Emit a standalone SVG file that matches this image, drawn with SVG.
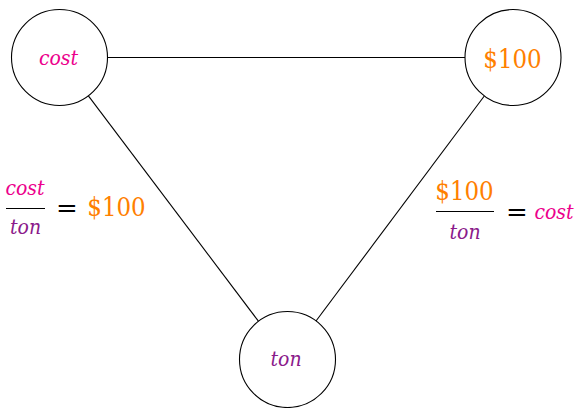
<svg xmlns="http://www.w3.org/2000/svg" width="577" height="408" viewBox="0 0 577 408">
  <style>
    .node { fill: #ffffff; stroke: #000000; stroke-width: 1.1; }
    .edge { stroke: #000000; stroke-width: 1.1; fill: none; }
    .bar { stroke: #000000; stroke-width: 1.1; }
    .it { font-style: italic; font-size: 21px; }
    .rm { font-size: 25.5px; }
    .cost { fill: #EC008C; }
    .ton { fill: #8B1A8B; }
    .usd { fill: #FF8000; }
    .eq { fill: #000000; font-family: "DejaVu Serif", serif; font-stretch: normal; font-size: 26px; }
  </style>
  <rect width="577" height="408" fill="#ffffff"/>

  <g id="connectors">
    <line class="edge" x1="107.5" y1="57.5" x2="465" y2="57.5"/>
    <line class="edge" x1="88.4" y1="95.8" x2="258.4" y2="321.2"/>
    <line class="edge" x1="484.3" y1="96" x2="316" y2="321"/>
  </g>

  <g font-family="'DejaVu Serif Condensed', 'DejaVu Serif', serif" font-stretch="condensed">
    <g id="node-cost">
      <circle class="node" cx="59.5" cy="57.5" r="48"/>
      <text class="it cost" x="58.5" y="64.5" text-anchor="middle">cost</text>
    </g>

    <g id="node-price">
      <circle class="node" cx="513" cy="57.5" r="48"/>
      <text class="rm usd" x="512.5" y="67.5" text-anchor="middle">$100</text>
    </g>

    <g id="node-ton">
      <circle class="node" cx="287.5" cy="359.5" r="48"/>
      <text class="it ton" x="286" y="366" text-anchor="middle">ton</text>
    </g>

    <g id="label-left">
      <text class="it cost" x="25" y="195" text-anchor="middle">cost</text>
      <line class="bar" x1="6" y1="208.5" x2="45" y2="208.5"/>
      <text class="it ton" x="25.5" y="233.5" text-anchor="middle">ton</text>
      <text class="eq" x="67" y="217" text-anchor="middle">=</text>
      <text class="rm usd" x="116.5" y="215.5" text-anchor="middle">$100</text>
    </g>

    <g id="label-right">
      <text class="rm usd" x="464.5" y="200" text-anchor="middle">$100</text>
      <line class="bar" x1="436" y1="211.5" x2="494" y2="211.5"/>
      <text class="it ton" x="465" y="238.5" text-anchor="middle">ton</text>
      <text class="eq" x="517" y="220.5" text-anchor="middle">=</text>
      <text class="it cost" x="554" y="218.5" text-anchor="middle">cost</text>
    </g>
  </g>
</svg>
